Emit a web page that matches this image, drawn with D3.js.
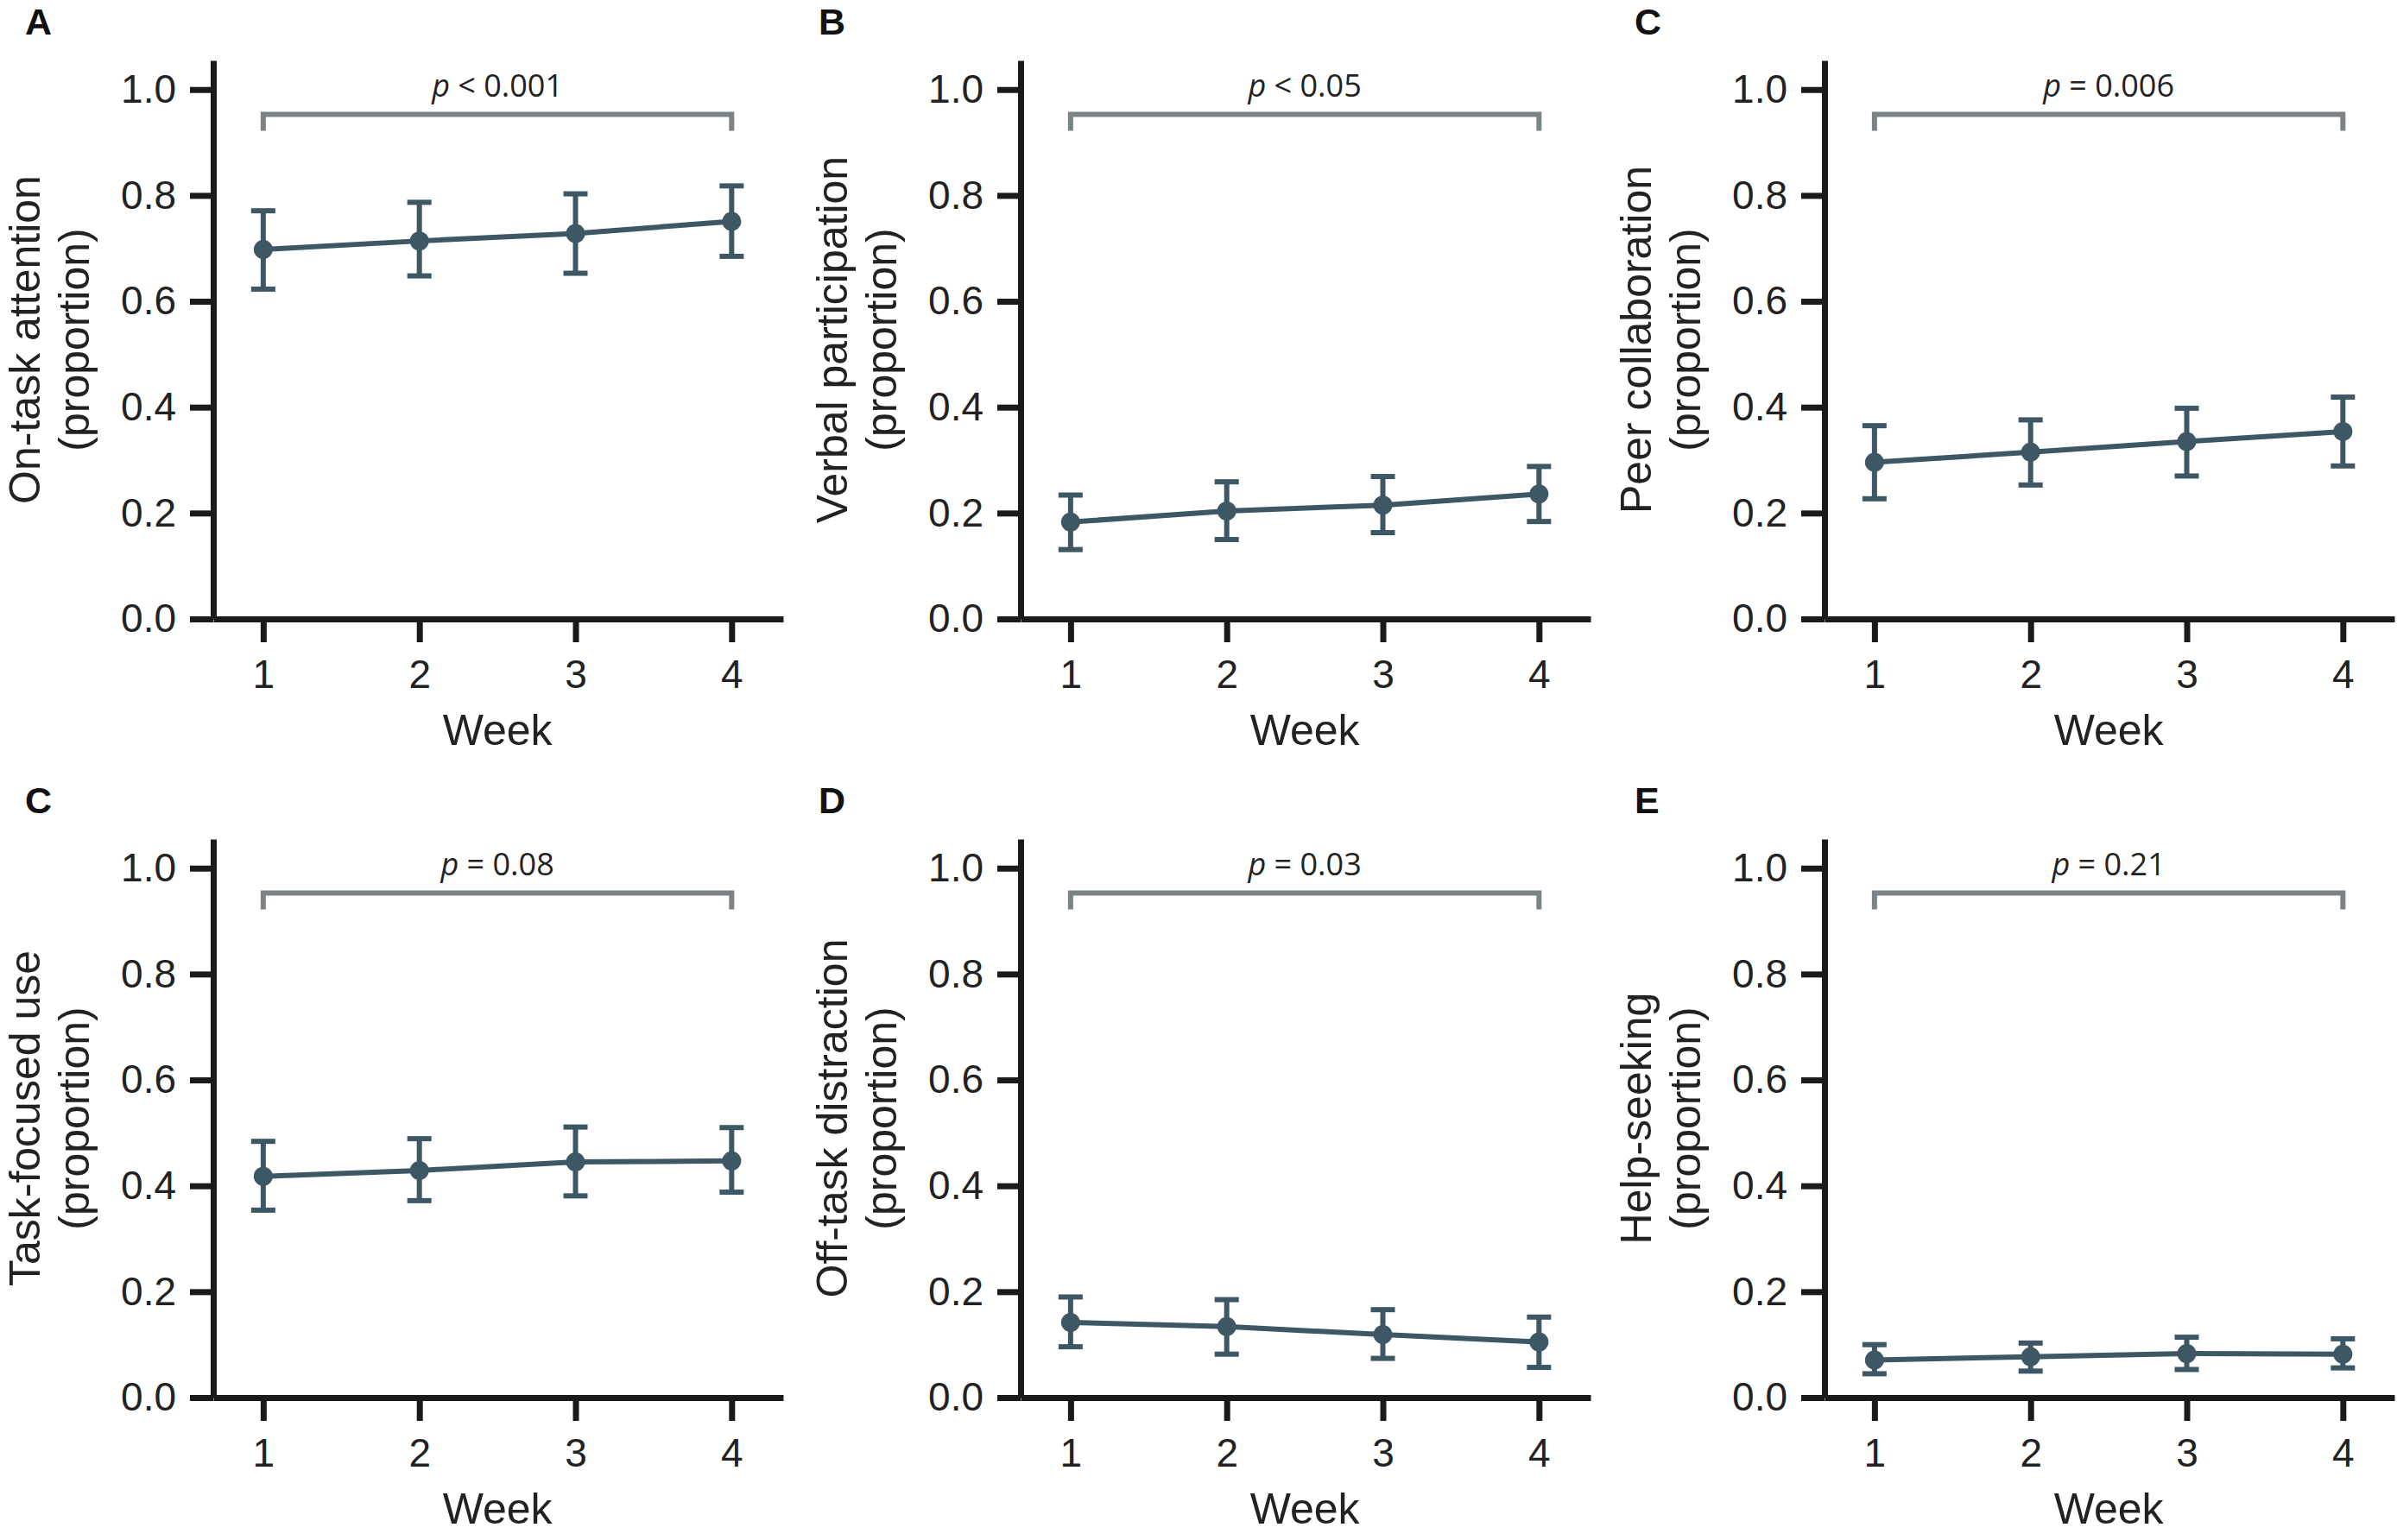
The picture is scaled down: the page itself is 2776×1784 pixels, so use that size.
<!DOCTYPE html>
<html>
<head>
<meta charset="utf-8">
<script src="https://cdn.jsdelivr.net/npm/d3@7"></script>
<style>
  body { margin: 0; background: #fff; }
  svg { display: block; }
</style>
</head>
<body>
<div id="chart"></div>
<script>
// Six panels: behaviour proportions by week, mean with error bars

var weeks = [1, 2, 3, 4];
var yTicks = [0, 0.2, 0.4, 0.6, 0.8, 1.0];

var panelLetters = ["A", "B", "C", "C", "D", "E"];
var yTitles = [
  ["On-task attention", "(proportion)"],
  ["Verbal participation", "(proportion)"],
  ["Peer collaboration", "(proportion)"],
  ["Task-focused use", "(proportion)"],
  ["Off-task distraction", "(proportion)"],
  ["Help-seeking", "(proportion)"]
];
var pSigns = ["<", "<", "=", "=", "=", "="];
var pValues = ["0.001", "0.05", "0.006", "0.08", "0.03", "0.21"];

var onTaskMean = [0.698, 0.714, 0.728, 0.751];
var onTaskLow  = [0.623, 0.648, 0.653, 0.685];
var onTaskHigh = [0.771, 0.787, 0.803, 0.818];

var verbalMean = [0.183, 0.204, 0.215, 0.236];
var verbalLow  = [0.131, 0.150, 0.163, 0.184];
var verbalHigh = [0.234, 0.259, 0.269, 0.288];

var peerMean = [0.296, 0.315, 0.335, 0.354];
var peerLow  = [0.227, 0.253, 0.270, 0.289];
var peerHigh = [0.365, 0.376, 0.398, 0.419];

var taskMean = [0.418, 0.429, 0.445, 0.447];
var taskLow  = [0.354, 0.372, 0.381, 0.388];
var taskHigh = [0.484, 0.489, 0.511, 0.510];

var offTaskMean = [0.142, 0.134, 0.119, 0.105];
var offTaskLow  = [0.096, 0.082, 0.074, 0.057];
var offTaskHigh = [0.190, 0.185, 0.166, 0.152];

var helpMean = [0.071, 0.077, 0.083, 0.082];
var helpLow  = [0.045, 0.050, 0.053, 0.056];
var helpHigh = [0.100, 0.103, 0.114, 0.111];

var means = [onTaskMean, verbalMean, peerMean, taskMean, offTaskMean, helpMean];
var lows  = [onTaskLow, verbalLow, peerLow, taskLow, offTaskLow, helpLow];
var highs = [onTaskHigh, verbalHigh, peerHigh, taskHigh, offTaskHigh, helpHigh];

// layout
var colX = [247, 1182, 2113];
var letterDx = [-218, -234, -220];
var rowTop = [70, 972];
var plotW = 660, plotH = 647;
var seriesColor = "#3e5765";
var bracketColor = "#7b8387";
var inkColor = "#222";

var svg = d3.select("#chart").append("svg")
    .attr("width", 2776)
    .attr("height", 1784);

var x = d3.scaleLinear().domain([0.68, 4.33]).range([0, plotW]);
var y = d3.scaleLinear().domain([0, 1.055]).range([plotH, 0]);

for (var i = 0; i < 6; i++) {
  var col = i % 3;
  var g = svg.append("g")
      .attr("transform", "translate(" + colX[col] + "," + rowTop[Math.floor(i / 3)] + ")");

  var rows = weeks.map(function(w, j) {
    return {week: w, mean: means[i][j], low: lows[i][j], high: highs[i][j]};
  });

  // axes
  var yAxis = g.append("g")
      .call(d3.axisLeft(y).tickValues(yTicks).tickFormat(d3.format(".1f"))
        .tickSize(27).tickSizeOuter(0).tickPadding(16));
  var xAxis = g.append("g")
      .attr("transform", "translate(0," + plotH + ")")
      .call(d3.axisBottom(x).tickValues(weeks).tickFormat(d3.format("d"))
        .tickSize(27).tickSizeOuter(0).tickPadding(20));

  [yAxis, xAxis].forEach(function(ax) {
    ax.selectAll(".domain, .tick line")
      .attr("stroke", "#1a1a1a")
      .attr("stroke-width", 7);
    ax.selectAll("text")
      .attr("fill", inkColor)
      .attr("font-family", "'Liberation Sans', Arial, sans-serif")
      .attr("font-size", 46);
  });

  // bracket and p value
  var x1 = x(weeks[0]), x4 = x(weeks[3]);
  g.append("path")
      .attr("d", "M" + x1 + "," + y(0.922) + "V" + y(0.953) + "H" + x4 + "V" + y(0.922))
      .attr("fill", "none")
      .attr("stroke", bracketColor)
      .attr("stroke-width", 6);

  var pt = g.append("text")
      .attr("x", (x1 + x4) / 2)
      .attr("y", y(0.987))
      .attr("text-anchor", "middle")
      .attr("font-family", "'Open Sans', 'Noto Sans', sans-serif")
      .attr("font-size", 36)
      .attr("fill", inkColor);
  pt.append("tspan").attr("font-style", "italic").text("p");
  pt.append("tspan").text(" " + pSigns[i] + " " + pValues[i]);

  // error bars
  var eb = g.append("g").selectAll("g")
    .data(rows)
    .enter().append("g")
      .attr("stroke", seriesColor)
      .attr("stroke-width", 6);
  eb.append("line")
      .attr("x1", function(d) { return x(d.week); })
      .attr("x2", function(d) { return x(d.week); })
      .attr("y1", function(d) { return y(d.low); })
      .attr("y2", function(d) { return y(d.high); });
  eb.append("line")
      .attr("x1", function(d) { return x(d.week) - 14; })
      .attr("x2", function(d) { return x(d.week) + 14; })
      .attr("y1", function(d) { return y(d.high); })
      .attr("y2", function(d) { return y(d.high); });
  eb.append("line")
      .attr("x1", function(d) { return x(d.week) - 14; })
      .attr("x2", function(d) { return x(d.week) + 14; })
      .attr("y1", function(d) { return y(d.low); })
      .attr("y2", function(d) { return y(d.low); });

  // mean line and points
  g.append("path")
      .datum(rows)
      .attr("fill", "none")
      .attr("stroke", seriesColor)
      .attr("stroke-width", 6)
      .attr("d", d3.line()
        .x(function(d) { return x(d.week); })
        .y(function(d) { return y(d.mean); }));

  g.selectAll("circle")
    .data(rows)
    .enter().append("circle")
      .attr("cx", function(d) { return x(d.week); })
      .attr("cy", function(d) { return y(d.mean); })
      .attr("r", 11)
      .attr("fill", seriesColor);

  // titles
  g.append("text")
      .attr("x", (x1 + x4) / 2)
      .attr("y", plotH + 146)
      .attr("text-anchor", "middle")
      .attr("font-family", "'Liberation Sans', Arial, sans-serif")
      .attr("font-size", 50)
      .attr("fill", inkColor)
      .text("Week");

  var yt = g.append("text")
      .attr("transform", "translate(-201," + (plotH / 2) + ") rotate(-90)")
      .attr("text-anchor", "middle")
      .attr("font-family", "'Liberation Sans', Arial, sans-serif")
      .attr("font-size", 50)
      .attr("fill", inkColor);
  yt.append("tspan").attr("x", 0).attr("y", 0).text(yTitles[i][0]);
  yt.append("tspan").attr("x", 0).attr("y", 57).text(yTitles[i][1]);

  g.append("text")
      .attr("x", letterDx[col])
      .attr("y", -30)
      .attr("font-family", "'Liberation Sans', Arial, sans-serif")
      .attr("font-weight", "bold")
      .attr("font-size", 43)
      .attr("fill", "#111")
      .text(panelLetters[i]);
}
</script>
</body>
</html>
